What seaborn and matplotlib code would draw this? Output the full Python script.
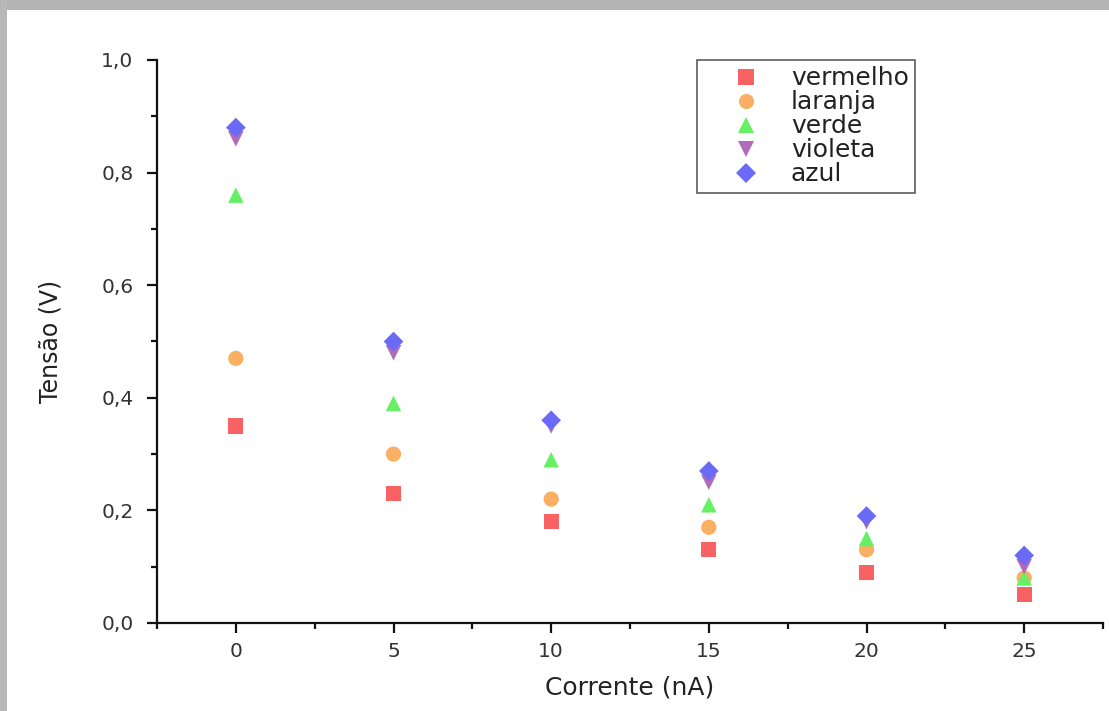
import matplotlib
matplotlib.use("Agg")
import matplotlib.pyplot as plt
from matplotlib.patches import Rectangle
from matplotlib.ticker import MultipleLocator, FuncFormatter
import seaborn as sns
import pandas as pd

corrente = [0, 5, 10, 15, 20, 25]
vermelho = [0.35, 0.23, 0.18, 0.13, 0.09, 0.05]
laranja = [0.47, 0.30, 0.22, 0.17, 0.13, 0.08]
verde = [0.76, 0.39, 0.29, 0.21, 0.15, 0.08]
violeta = [0.86, 0.48, 0.35, 0.25, 0.18, 0.10]
azul = [0.88, 0.50, 0.36, 0.27, 0.19, 0.12]

series_names = ["vermelho", "laranja", "verde", "violeta", "azul"]
series_values = [vermelho, laranja, verde, violeta, azul]

palette = {"vermelho": "#F86262", "laranja": "#F9B064", "verde": "#66F066",
           "violeta": "#B06CBA", "azul": "#6A6AF6"}
markers = {"vermelho": "s", "laranja": "o", "verde": "^", "violeta": "v", "azul": "D"}
sizes = {"vermelho": 120, "laranja": 120, "verde": 125, "violeta": 125, "azul": 100}

rows = []
for name, vals in zip(series_names, series_values):
    for x, y in zip(corrente, vals):
        rows.append({"Corrente": x, "Tensao": y, "serie": name})
df = pd.DataFrame(rows)

sns.set_style("ticks")
plt.rcParams["font.family"] = ["DejaVu Sans"]

fig = plt.figure(figsize=(11.09, 7.11), dpi=100)
fig.patch.set_facecolor("white")
fig.patches.append(Rectangle((0, 1 - 10 / 711), 1, 10 / 711, transform=fig.transFigure,
                             facecolor="#B4B4B4", edgecolor="none", zorder=0))
fig.patches.append(Rectangle((0, 0), 7 / 1109, 1, transform=fig.transFigure,
                             facecolor="#B8B8B8", edgecolor="none", zorder=0))

ax = fig.add_axes([157 / 1109, 1 - 623 / 711, (1103 - 157) / 1109, (623 - 60) / 711])

sns.scatterplot(data=df, x="Corrente", y="Tensao", hue="serie", style="serie",
                size="serie", sizes=sizes,
                hue_order=series_names, style_order=series_names, size_order=series_names,
                palette=palette, markers=markers, linewidth=0, ax=ax)

ax.set_xlim(-2.5, 27.5)
ax.set_ylim(0, 1.0)
ax.xaxis.set_major_locator(MultipleLocator(5))
ax.xaxis.set_minor_locator(MultipleLocator(2.5))
ax.yaxis.set_major_locator(MultipleLocator(0.2))
ax.yaxis.set_minor_locator(MultipleLocator(0.1))
ax.yaxis.set_major_formatter(FuncFormatter(lambda v, p: f"{v:.1f}".replace(".", ",")))

for s in ["top", "right"]:
    ax.spines[s].set_visible(False)
for s in ["left", "bottom"]:
    ax.spines[s].set_linewidth(1.6)
    ax.spines[s].set_color("#111111")

ax.tick_params(which="major", direction="out", length=7, width=1.6, labelsize=14.5,
               colors="#111111", pad=7)
ax.tick_params(which="minor", direction="out", length=4, width=1.6, colors="#111111")
ax.tick_params(axis="y", which="major", pad=10)
for lab in ax.get_xticklabels() + ax.get_yticklabels():
    lab.set_color("#333333")

ax.set_xlabel("Corrente (nA)", fontsize=18, color="#222222", labelpad=10)
ax.set_ylabel("Tensão (V)", fontsize=17, color="#222222", labelpad=28)

old = ax.get_legend()
handles = old.legend_handles
labels = [t.get_text() for t in old.texts]
old.remove()
leg = ax.legend(handles=handles, labels=labels, loc="upper left",
                bbox_to_anchor=((697 - 157) / (1103 - 157), 1.0), borderaxespad=0,
                fontsize=18, labelspacing=0.0, borderpad=0.25, handlelength=3.4,
                handletextpad=0.1, frameon=True, fancybox=False, markerscale=1.0)
leg.get_frame().set_edgecolor("#333333")
leg.get_frame().set_linewidth(1.2)
for t in leg.get_texts():
    t.set_color("#222222")

fig.savefig("out.png", dpi=100, facecolor=fig.get_facecolor())
